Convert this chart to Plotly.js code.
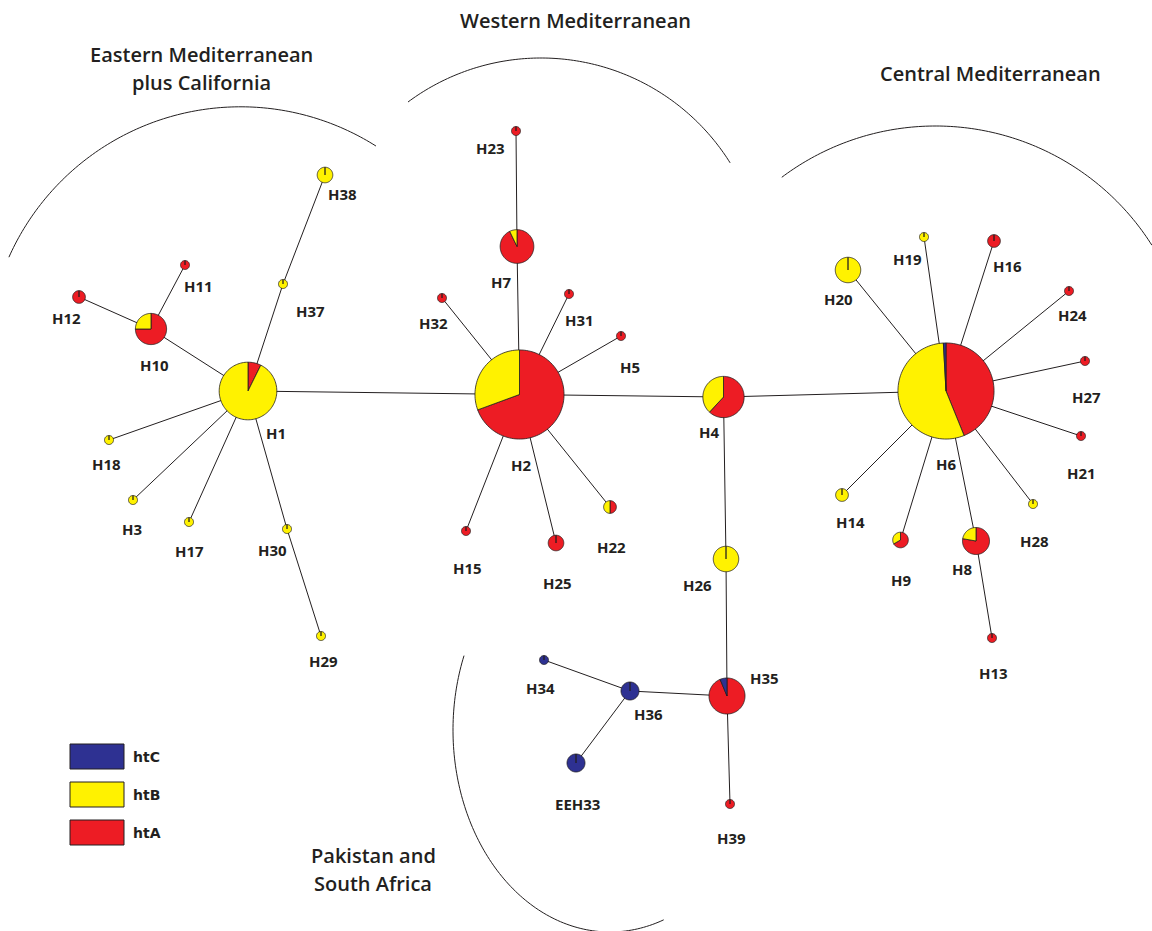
<!DOCTYPE html>
<html><head><meta charset="utf-8">
<script src="https://cdn.plot.ly/plotly-3.0.1.min.js"></script>
<style>html,body{margin:0;padding:0;background:#fff}#chart{width:1152px;height:931px}</style>
</head><body><div id="chart"></div><script>
// ---- data ----
const haplotypes = ['H1','H2','H3','H4','H5','H6','H7','H8','H9','H10','H11','H12','H13','H14','H15','H16','H17','H18','H19','H20','H21','H22','H23','H24','H25','H26','H27','H28','H29','H30','H31','H32','EEH33','H34','H35','H36','H37','H38','H39'];
// network layout position of each haplotype
const nodeX = [248,519.5,133,723.5,621,946,517,976,900.5,151,185,79,992,842,466,994,189,109,924,848,1081,610,516,1069,556,726,1085,1033,321,287,569,442,576,544,727,630,283,325,730];
const nodeY = [391,394.5,500,397,336,391,246.5,541,540,329,265,297,638,495,531,241,522,440,237,270,436,507,131,291,543,559,361,504,636,529,294,298,763,660,696,691,284,175,804];
// sample counts per lineage
const htA = [3,68,0,13,1,50,13,7,2,9,1,2,1,0,1,2,0,0,0,0,1,1,1,1,3,0,1,0,0,0,1,1,0,0,15,0,0,0,1];
const htB = [38,30,1,8,0,63,1,2,1,3,0,0,0,2,0,0,1,1,1,8,0,1,0,0,0,8,0,1,1,1,0,0,0,0,0,0,1,3,0];
const htC = [0,0,0,0,0,1,0,0,0,0,0,0,0,0,0,0,0,0,0,0,0,0,0,0,0,0,0,0,0,0,0,0,4,1,1,4,0,0,0];
// label anchor positions
const labelX = [276,521,132,709,630,946,501,962,901,154,198,66,993,850,467,1007,189,106,907,838,1081,611,490,1072,557,697,1086,1034,323,272,579,433,577,540,764,648,310,342,731];
const labelY = [433,465,529,432,367,464,282,569,580,365,286,318,673,522,568,266,551,464,259,299,473,547,148,315,583,585,397,541,661,550,320,323,804,688,678,714,311,194,838];
const edges = [['H1','H2'],['H2','H4'],['H4','H6'],['H4','H26'],['H26','H35'],['H35','H39'],['H35','H36'],['H36','H34'],['H36','EEH33'],
  ['H1','H10'],['H10','H12'],['H10','H11'],['H1','H37'],['H37','H38'],['H1','H18'],['H1','H3'],['H1','H17'],['H1','H30'],['H30','H29'],
  ['H2','H7'],['H7','H23'],['H2','H32'],['H2','H31'],['H2','H5'],['H2','H15'],['H2','H25'],['H2','H22'],
  ['H6','H20'],['H6','H19'],['H6','H16'],['H6','H24'],['H6','H27'],['H6','H21'],['H6','H28'],['H6','H8'],['H8','H13'],['H6','H9'],['H6','H14']];
const lineages = ['htC','htB','htA'];
const lineageColors = {htA:'#ED1C24', htB:'#FFF200', htC:'#2E3192'};
const regionTitles = [['Eastern Mediterranean',201,54],['plus California',201,82],['Western Mediterranean',575,20],['Central Mediterranean',990,73],['Pakistan and',373,855],['South Africa',373,883]];
// region arcs: centre, radii, start/end angle (deg)
const regionArcs = [[240.5,360.3,253.5,253.5,204,302.3],[541,281,223,223,233.4,328],[935.5,382,256,256,233.1,327.7],[610,730,157,202,70,201.6]];

// ---- drawing ----
const ink = '#231f20';
const unitR = 4.5;
const idx = {}; haplotypes.forEach((h,i)=>idx[h]=i);
const shapes = [];
regionArcs.forEach(a=>{
  const [cx,cy,rx,ry,t0,t1]=a; let d='';
  for(let i=0;i<=120;i++){const t=(t0+(t1-t0)*i/120)*Math.PI/180; d+=(i?' L':'M')+(cx+rx*Math.cos(t)).toFixed(2)+','+(cy+ry*Math.sin(t)).toFixed(2);}
  shapes.push({type:'path',xref:'x',yref:'y',path:d,line:{color:ink,width:1}});
});
edges.forEach(e=>{const a=idx[e[0]],b=idx[e[1]];
  shapes.push({type:'line',xref:'x',yref:'y',x0:nodeX[a],y0:nodeY[a],x1:nodeX[b],y1:nodeY[b],line:{color:ink,width:1}});});
function slicePath(cx,cy,r,a0,a1){
  const steps=Math.max(2,Math.ceil((a1-a0)/3)); let d='M'+cx+','+cy;
  for(let i=0;i<=steps;i++){const a=(a0+(a1-a0)*i/steps)*Math.PI/180; d+=' L'+(cx+r*Math.sin(a)).toFixed(2)+','+(cy-r*Math.cos(a)).toFixed(2);}
  return d+' Z';
}
haplotypes.forEach((h,i)=>{
  const parts=[[htA[i],lineageColors.htA],[htB[i],lineageColors.htB],[htC[i],lineageColors.htC]];
  const tot=htA[i]+htB[i]+htC[i]; const r=unitR*Math.sqrt(tot); let a=0;
  parts.forEach(p=>{ if(p[0]<=0) return; const a1=a+360*p[0]/tot;
    shapes.push({type:'path',xref:'x',yref:'y',path:slicePath(nodeX[i],nodeY[i],r,a,a1),fillcolor:p[1],line:{color:ink,width:0.8}}); a=a1;});
});
const annotations = [];
haplotypes.forEach((h,i)=>annotations.push({x:labelX[i],y:labelY[i],xref:'x',yref:'y',text:h,showarrow:false,xanchor:'center',yanchor:'middle',font:{family:'Open Sans',size:15,weight:700,color:ink}}));
regionTitles.forEach(t=>annotations.push({x:t[1],y:t[2],xref:'x',yref:'y',text:t[0],showarrow:false,xanchor:'center',yanchor:'middle',font:{family:'Open Sans',size:20,weight:600,color:ink}}));
lineages.forEach((l,k)=>{
  const y0=744+k*38;
  shapes.push({type:'rect',xref:'x',yref:'y',x0:70,x1:124,y0:y0,y1:y0+25,fillcolor:lineageColors[l],line:{color:ink,width:1}});
  annotations.push({x:131,y:y0+13,xref:'x',yref:'y',text:l,showarrow:false,xanchor:'left',yanchor:'middle',font:{family:'DejaVu Sans',size:14,weight:700,color:ink}});
});
const trace = {type:'scatter',mode:'markers',x:nodeX,y:nodeY,text:haplotypes,
  customdata:haplotypes.map((h,i)=>[htA[i],htB[i],htC[i]]),
  hovertemplate:'%{text}<br>htA: %{customdata[0]}<br>htB: %{customdata[1]}<br>htC: %{customdata[2]}<extra></extra>',
  marker:{size:haplotypes.map((h,i)=>2*unitR*Math.sqrt(htA[i]+htB[i]+htC[i])),opacity:0},showlegend:false};
Plotly.newPlot('chart',[trace],{
  width:1152,height:931,margin:{l:0,r:0,t:0,b:0},paper_bgcolor:'#fff',plot_bgcolor:'#fff',
  xaxis:{range:[0,1152],visible:false,fixedrange:true},
  yaxis:{range:[931,0],visible:false,fixedrange:true},
  shapes:shapes,annotations:annotations,showlegend:false
},{displayModeBar:false,staticPlot:false});
</script></body></html>
